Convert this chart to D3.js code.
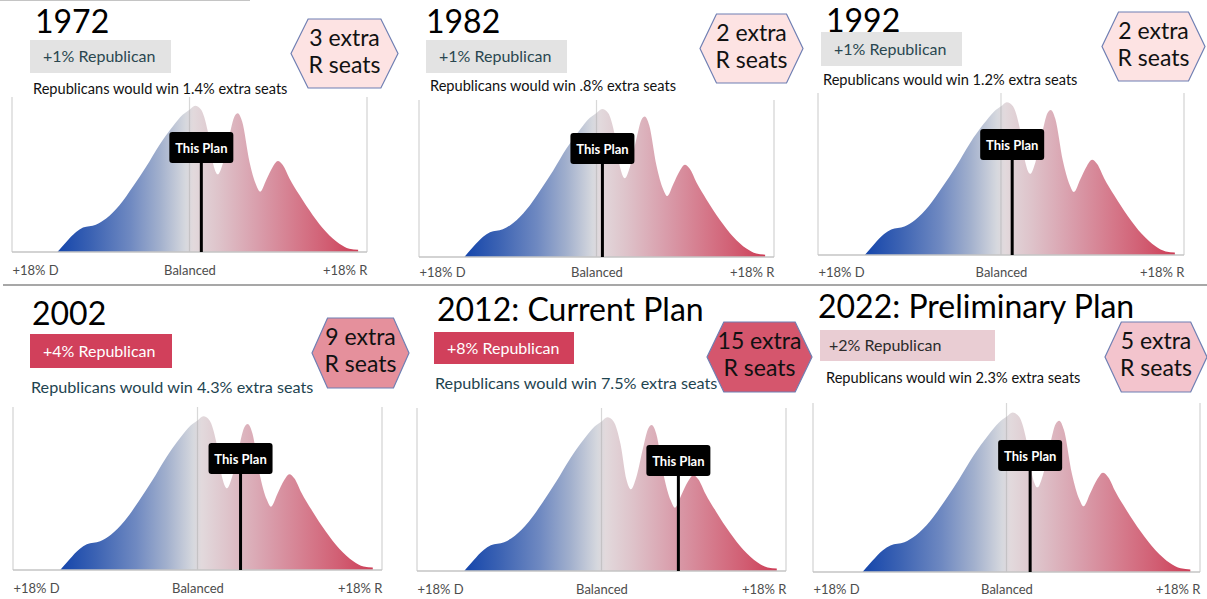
<!DOCTYPE html>
<html>
<head>
<meta charset="utf-8">
<script src="https://cdn.jsdelivr.net/npm/d3@7"></script>
<style>
    body { margin: 0; background: #fff; }
    text { font-family: Lato, "Open Sans", sans-serif; }
</style>
</head>
<body>
<div id="chart"></div>
<script>
// values
var titles = ["1972", "1982", "1992", "2002", "2012: Current Plan", "2022: Preliminary Plan"];
var voteLean = [1, 1, 1, 4, 8, 2];                       // % Republican
var seatLabels = ["1.4%", ".8%", "1.2%", "4.3%", "7.5%", "2.3%"];
var extraSeats = [3, 2, 2, 9, 15, 5];
var planMargin = [1.2, 0.6, 1.1, 4.2, 7.5, 2.2];        // where "This Plan" sits

// ensemble distribution (same in every panel)
var curveMargin = [-13.4, -12.5, -11.5, -10.8, -9.5, -8.45, -7.1, -5.75, -4.4, -3.05, -1.7, -0.7, 0,
    0.57, 1.18, 1.86, 2.43, 2.87, 3.38, 4.06, 4.56, 4.9, 5.34, 6.08, 6.76, 7.17, 7.78, 8.45, 8.96,
    9.46, 10.14, 11.15, 12.5, 13.86, 15.2, 16.2, 17.1];
var curveDensity = [0, 6.9, 13.7, 16.7, 18.7, 22.9, 32, 44.6, 58.3, 73.2, 85.8, 93.8, 97.3,
    100, 97.3, 82.4, 59.5, 53.1, 60.6, 80.1, 92.7, 94.9, 89.2, 61.8, 45.8, 41.2, 49.2, 58.3, 62.3,
    59.5, 50.3, 38.9, 25.2, 13.7, 5.7, 2.3, 1.6];

var axisTicks = [-18, 0, 18];
var axisNames = ["+18% D", "Balanced", "+18% R"];

// panel placement + look
var layout = [
    {x0: 12, x1: 367, base: 252, top: 97, tx: 35, ty: 33, bx: 30, by: 40, bw: 141, bh: 33, sx: 33, sy: 94, hx0: 291, hx1: 398, hy0: 19, hy1: 88, ly: 132, ay: 275},
    {x0: 419, x1: 774, base: 257, top: 100, tx: 426, ty: 33, bx: 426, by: 40, bw: 141, bh: 33, sx: 430, sy: 91, hx0: 700, hx1: 803, hy0: 14, hy1: 83, ly: 133, ay: 277},
    {x0: 818, x1: 1184, base: 255, top: 93, tx: 826, ty: 32, bx: 821, by: 32, bw: 141, bh: 34, sx: 823, sy: 85, hx0: 1102, hx1: 1205, hy0: 12, hy1: 81, ly: 129, ay: 277},
    {x0: 13, x1: 382, base: 570, top: 407, tx: 32, ty: 325, bx: 30, by: 334, bw: 142, bh: 34, sx: 31, sy: 393, hx0: 312, hx1: 409, hy0: 318, hy1: 388, ly: 443, ay: 593},
    {x0: 417, x1: 786, base: 571, top: 408, tx: 437, ty: 321, bx: 434, by: 332, bw: 140, bh: 32, sx: 435, sy: 389, hx0: 707, hx1: 812, hy0: 322, hy1: 392, ly: 445, ay: 594},
    {x0: 813, x1: 1200, base: 572, top: 403, tx: 818, ty: 318, bx: 820, by: 330, bw: 175, bh: 31, sx: 826, sy: 383, hx0: 1105, hx1: 1207, hy0: 322, hy1: 392, ly: 440, ay: 594}
];
var looks = [
    {box: "#e3e3e3", boxText: "#2a4750", sub: "#111", subSize: 14.6, hex: "#fde3e3"},
    {box: "#e3e3e3", boxText: "#2a4750", sub: "#111", subSize: 14.6, hex: "#fde3e3"},
    {box: "#e3e3e3", boxText: "#2a4750", sub: "#111", subSize: 14.6, hex: "#fde3e3"},
    {box: "#d1405b", boxText: "#fff", sub: "#1e4450", subSize: 16.2, hex: "#e5909c"},
    {box: "#d1405b", boxText: "#fff", sub: "#1e4450", subSize: 16.2, hex: "#d5566d"},
    {box: "#e9cdd3", boxText: "#2b2b2b", sub: "#111", subSize: 14.6, hex: "#f3c4cd"}
];

var width = 1207, height = 599;
var svg = d3.select("#chart").append("svg").attr("width", width).attr("height", height);

svg.append("rect").attr("width", width).attr("height", height).attr("fill", "#fff");

// blue -> grey -> red fill, stops placed on the margin axis
var gradPos = d3.scaleLinear()
    .domain([curveMargin[0], curveMargin[curveMargin.length - 1]])
    .range([0, 1]);
var gradStops = [
    [-13.4, "#1445ab"], [-10, "#3b62b3"], [-6, "#6f89c1"], [-3, "#a2b0cd"], [-0.4, "#d6d8de"],
    [0.4, "#e2d9dc"], [3, "#dec3ca"], [7, "#d99dab"], [11, "#d5788a"], [14, "#d15d72"], [17.1, "#cd3d56"]
];
svg.append("defs").append("linearGradient")
    .attr("id", "distFill")
    .selectAll("stop")
    .data(gradStops)
    .join("stop")
    .attr("offset", d => gradPos(d[0]))
    .attr("stop-color", d => d[1]);

// row separators
svg.append("line").attr("x1", 3).attr("x2", width).attr("y1", 285).attr("y2", 285)
    .attr("stroke", "#8a8a8a").attr("stroke-width", 1.5);
svg.append("line").attr("x1", 0).attr("x2", 250).attr("y1", 0.5).attr("y2", 0.5)
    .attr("stroke", "#c4c4c4").attr("stroke-width", 1);

var points = curveMargin.map((m, i) => ({m: m, v: curveDensity[i]}));

titles.forEach(function (title, i) {
    var L = layout[i], look = looks[i];
    var g = svg.append("g");

    var x = d3.scaleLinear().domain([-18, 18]).range([L.x0, L.x1]);
    var y = d3.scaleLinear().domain([0, 106]).range([L.base, L.top]);

    // frame
    g.append("line").attr("x1", L.x0).attr("x2", L.x0).attr("y1", L.top).attr("y2", L.base)
        .attr("stroke", "#d2d2d2").attr("stroke-width", 1.2);
    g.append("line").attr("x1", L.x1).attr("x2", L.x1).attr("y1", L.top).attr("y2", L.base)
        .attr("stroke", "#d2d2d2").attr("stroke-width", 1.2);

    var area = d3.area()
        .x(d => x(d.m))
        .y0(y(0))
        .y1(d => y(d.v))
        .curve(d3.curveMonotoneX);

    g.append("path")
        .datum(points)
        .attr("d", area)
        .attr("fill", "url(#distFill)");

    // balanced line over the fill
    g.append("line").attr("x1", x(0)).attr("x2", x(0)).attr("y1", L.top).attr("y2", L.base)
        .attr("stroke", "#a8a8a8").attr("stroke-opacity", 0.45).attr("stroke-width", 1.2);
    g.append("line").attr("x1", L.x0).attr("x2", L.x1).attr("y1", L.base).attr("y2", L.base)
        .attr("stroke", "#c4c4c4").attr("stroke-width", 1.5);

    // axis labels
    var axis = g.append("g")
        .attr("transform", "translate(0," + L.base + ")")
        .call(d3.axisBottom(x).tickValues(axisTicks).tickSize(0)
            .tickFormat((d, k) => axisNames[k]));
    axis.select(".domain").remove();
    axis.selectAll("text")
        .attr("y", L.ay - L.base)
        .attr("dy", 0)
        .style("font-family", "Lato, sans-serif")
        .style("font-size", "13px")
        .attr("fill", "#4d4d4d")
        .attr("text-anchor", (d, k) => k == 0 ? "start" : (k == 2 ? "end" : "middle"));

    // this plan marker
    var px = x(planMargin[i]);
    g.append("line").attr("x1", px).attr("x2", px).attr("y1", L.ly + 20).attr("y2", L.base)
        .attr("stroke", "#000").attr("stroke-width", 3);
    g.append("rect").attr("x", px - 32).attr("y", L.ly).attr("width", 64).attr("height", 31)
        .attr("rx", 3).attr("fill", "#000");
    g.append("text").attr("x", px).attr("y", L.ly + 20.5)
        .attr("text-anchor", "middle").attr("fill", "#fff")
        .style("font-size", "13px").style("font-weight", 700)
        .text("This Plan");

    // title
    g.append("text").attr("x", L.tx).attr("y", L.ty)
        .style("font-size", "32px").attr("fill", "#000")
        .text(title);

    // lean box
    g.append("rect").attr("x", L.bx).attr("y", L.by).attr("width", L.bw).attr("height", L.bh)
        .attr("fill", look.box);
    g.append("text").attr("x", i == 5 ? L.bx + 9 : L.bx + 13).attr("y", L.by + L.bh / 2 + 5.5)
        .style("font-size", "16px").attr("fill", look.boxText)
        .text("+" + voteLean[i] + "% Republican");

    // seat share line
    g.append("text").attr("x", L.sx).attr("y", L.sy)
        .style("font-size", look.subSize + "px").attr("fill", look.sub)
        .text("Republicans would win " + seatLabels[i] + " extra seats");

    // hexagon
    var hw = L.hx1 - L.hx0, inset = hw * 0.16, cy = (L.hy0 + L.hy1) / 2;
    var hex = [[L.hx0, cy], [L.hx0 + inset, L.hy0], [L.hx1 - inset, L.hy0], [L.hx1, cy],
        [L.hx1 - inset, L.hy1], [L.hx0 + inset, L.hy1]];
    g.append("polygon")
        .attr("points", hex.map(p => p.join(",")).join(" "))
        .attr("fill", look.hex)
        .attr("stroke", "#6f7fb3")
        .attr("stroke-width", 1.2);
    var hcx = (L.hx0 + L.hx1) / 2;
    g.append("text").attr("x", hcx).attr("y", cy - 8)
        .attr("text-anchor", "middle").style("font-size", "23px").attr("fill", "#111")
        .text(extraSeats[i] + " extra");
    g.append("text").attr("x", hcx).attr("y", cy + 19)
        .attr("text-anchor", "middle").style("font-size", "23px").attr("fill", "#111")
        .text("R seats");
});
</script>
</body>
</html>
